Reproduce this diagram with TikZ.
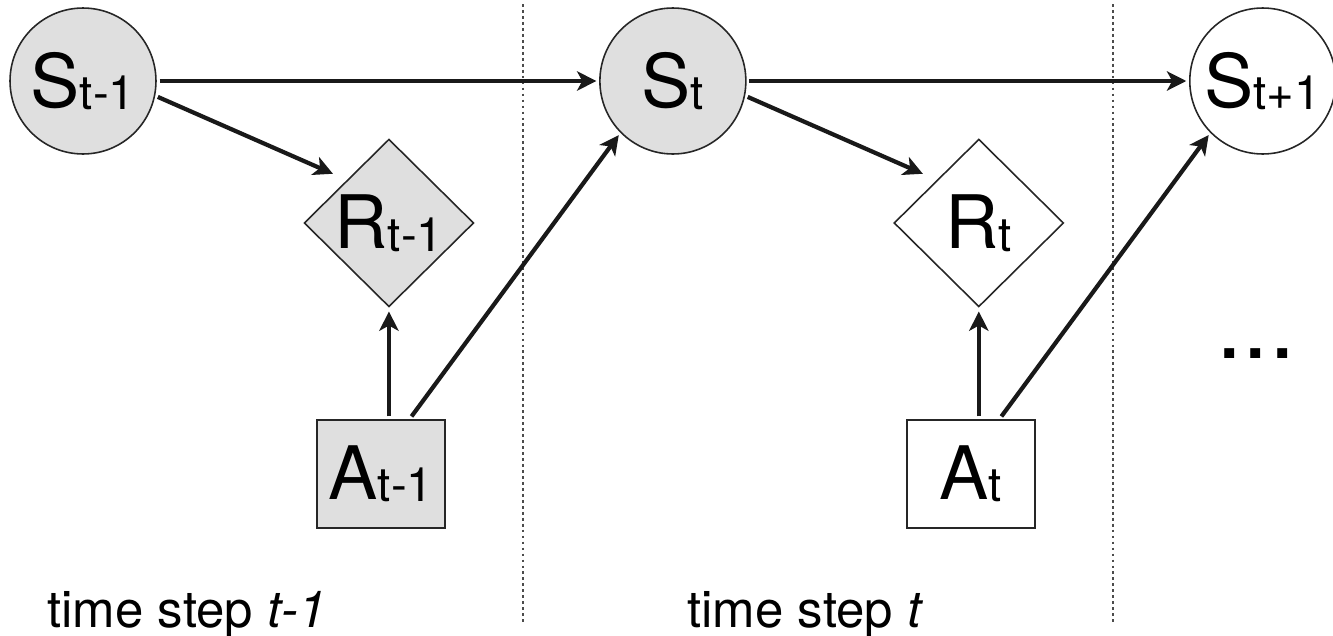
\documentclass[tikz,border=0pt]{standalone}
\usepackage{fontspec}
\setmainfont{TeX Gyre Heros}
\usetikzlibrary{positioning,shapes.geometric,arrows.meta}

% big letter with a smaller index next to it
\newcommand{\varlbl}[2]{{\fontsize{42}{42}\selectfont #1}\raisebox{-1.5pt}{\fontsize{27}{27}\selectfont #2}}

\tikzset{
  state/.style={circle,draw=black!85,line width=0.9pt,minimum size=2.92cm,inner sep=0pt,outer sep=2pt},
  reward/.style={diamond,draw=black!85,line width=0.9pt,minimum width=3.44cm,minimum height=3.4cm,inner sep=0pt,outer sep=2pt},
  action/.style={rectangle,draw=black!85,line width=0.9pt,minimum width=2.56cm,minimum height=2.16cm,inner sep=0pt,outer sep=2pt},
  seen/.style={fill=gray!25},
  arr/.style={-{Stealth[length=11pt,width=11pt,inset=3pt]},line width=2.4pt,black!90},
  sep/.style={dash pattern=on 1.6pt off 1.8pt,line width=1.4pt,black!70},
}

\begin{document}
\begin{tikzpicture}[x=0.02cm,y=-0.02cm,on grid,node distance=11.8cm]
\useasboundingbox (0,0) rectangle (1333,636);

% time step separators
\draw[sep] (523,4) -- (523,622);
\draw[sep] (1113,4) -- (1113,622);

\node[state,seen] (s1) at (83,81) {\varlbl{S}{t-1}};
\node[state,seen,right=of s1] (s2) {\varlbl{S}{t}};
\node[state,right=of s2] (s3) {\varlbl{S}{t+1}};
\node[reward,seen,below right=2.84cm and 6.12cm of s1] (r1) {\varlbl{R}{t-1}};
\node[reward,right=of r1] (r2) {\varlbl{R}{t}};
\node[action,seen,below left=5.02cm and 0.16cm of r1] (a1) {\varlbl{A}{t-1}};
\node[action,right=of a1] (a2) {\varlbl{A}{t}};

\draw[arr] (s1) -- (s2);
\draw[arr] (s2) -- (s3);
\draw[arr,shorten >=7pt] (s1.-12) -- (r1.north west);
\draw[arr,shorten >=7pt] (s2.-12) -- (r2.north west);
\draw[arr] (a1.north -| r1.south) -- (r1.south);
\draw[arr] (a2.north -| r2.south) -- (r2.south);
\draw[arr] (a1.62) -- (s2.225);
\draw[arr] (a2.62) -- (s3.225);

\node[anchor=base,inner sep=0pt,font=\fontsize{54}{54}\selectfont] (more) at (1256,358) {...};
\node[anchor=base west,inner sep=0pt,font=\fontsize{29}{29}\selectfont] (t1) at (47,627) {time step \textit{t-1}};
\node[anchor=base west,inner sep=0pt,font=\fontsize{29}{29}\selectfont] (t2) at (687,627) {time step \textit{t}};
\end{tikzpicture}
\end{document}
